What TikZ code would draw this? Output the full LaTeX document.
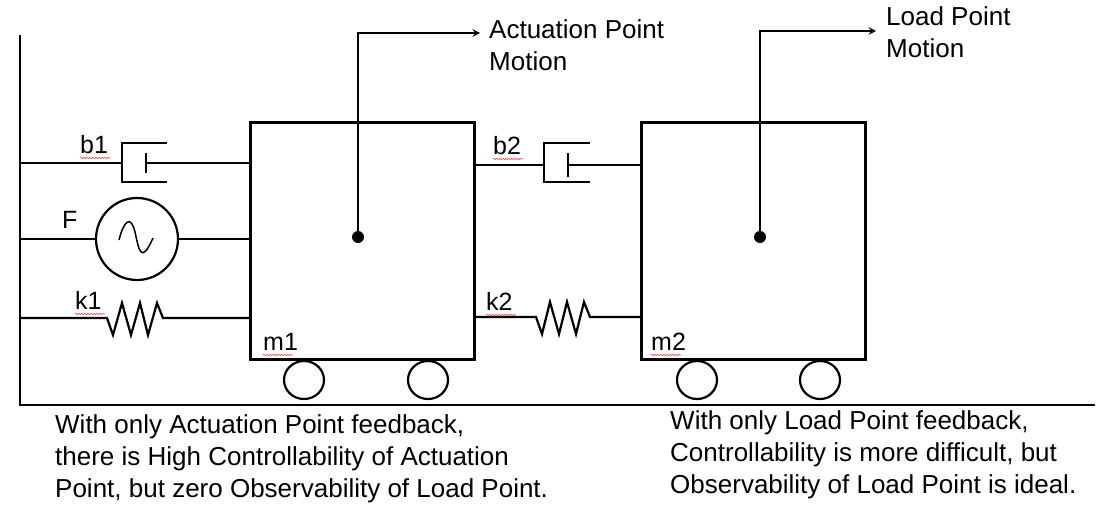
\documentclass[tikz,border=0pt]{standalone}
\usepackage{fontspec}
\setmainfont{Liberation Sans}
\usetikzlibrary{decorations.pathmorphing}
\tikzset{
  wire/.style={line width=2.2pt},
  mass/.style={draw,line width=3.2pt,minimum width=224pt,minimum height=237pt,anchor=north west},
  wheel/.style={draw,line width=2.2pt,ellipse,minimum width=40pt,minimum height=38pt},
  lbl/.style={font=\fontsize{25}{30}\selectfont,inner sep=0pt,anchor=south west},
  note/.style={font=\fontsize{26}{32}\selectfont,align=left,inner sep=0pt,anchor=north west},
  squiggle/.style={red!70,line width=0.6pt,decorate,decoration={snake,amplitude=0.8pt,segment length=3pt}},
  dot/.style={circle,fill,inner sep=0pt,minimum size=12pt}
}
\usetikzlibrary{shapes.geometric}
\begin{document}
\begin{tikzpicture}[x=1pt,y=-1pt]
		\useasboundingbox (0,0) rectangle (1106,506);
		% wall and ground
		\draw[wire] (20,35) -- (20,405) -- (1095,405);
		% masses
		\node[mass] (m1) at (249,121) {};
		\node[mass] (m2) at (640,121) {};
		\foreach \wx in {304,428,697,820}
			\node[wheel] at (\wx,380) {};
		\node[dot] (p1) at (358,237) {};
		\node[dot] (p2) at (760,237) {};
		% damper b1
		\draw[wire] (20,163) -- (122,163);
		\draw[wire] (167,143) -- (122,143) -- (122,182) -- (167,182);
		\draw[wire] (146,153) -- (146,173);
		\draw[wire] (146,163) -- (249,163);
		% source F
		\node[draw,wire,circle,minimum size=82pt,inner sep=0pt] (F) at (137,239) {};
		\draw[line width=1.5pt] (119,240) .. controls (124,220) and (131,215) .. (135,232) .. controls (139,250) and (141,265) .. (153,238);
		\draw[wire] (20,239) -- (F.west);
		\draw[wire] (F.east) -- (249,239);
		% spring k1
		\draw[wire] (20,318) -- (107,318) -- (113,335) -- (122,303) -- (131,335) -- (140,303) -- (148,335) -- (157,303) -- (163,318) -- (249,318);
		% damper b2
		\draw[wire] (473,165) -- (544,165);
		\draw[wire] (590,143) -- (544,143) -- (544,182) -- (590,182);
		\draw[wire] (568,153) -- (568,177);
		\draw[wire] (568,165) -- (640,165);
		% spring k2
		\draw[wire] (473,317) -- (536,317) -- (542,334) -- (550,302) -- (559,334) -- (567,302) -- (576,334) -- (584,302) -- (590,317) -- (640,317);
		% motion arrows
		\draw[wire,-stealth] (p1.center) |- (480,33);
		\draw[wire,-stealth] (p2.center) |- (876,31);
		% labels
		\node[lbl] (lF) at (62,229) {F};
		\foreach \t/\lx/\ly in {b1/80/154, k1/75/310, m1/263/351, b2/493/155, k2/486/311, m2/651/351}
		{
			\node[lbl] (l\t) at (\lx,\ly) {\t};
			\draw[squiggle] (l\t.south west) ++(0,4) -- ++(30,0);
		}
		\node[note] (n0) at (489,19) {Actuation Point\\Motion};
		\node[note] (n1) at (886,6) {Load Point\\Motion};
		\node[note] (n2) at (55,414) {With only Actuation Point feedback,\\there is High Controllability of Actuation\\Point, but zero Observability of Load Point.};
		\node[note] (n3) at (670,410) {With only Load Point feedback,\\Controllability is more difficult, but\\Observability of Load Point is ideal.};
\end{tikzpicture}
\end{document}
